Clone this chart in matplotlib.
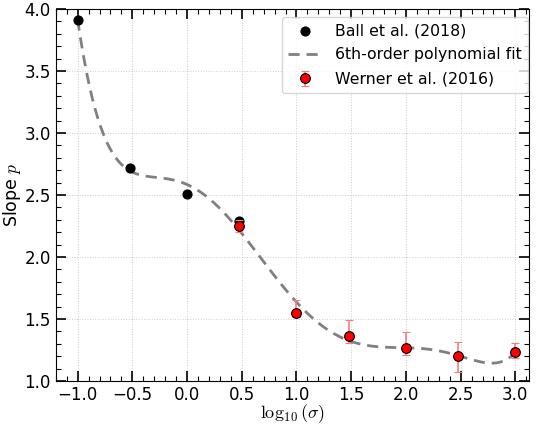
import numpy as np
import matplotlib
matplotlib.use("Agg")
import matplotlib.pyplot as plt
from matplotlib.ticker import MultipleLocator

plt.rcParams['mathtext.fontset'] = 'cm'

# Ball et al. (2018)
ball_x = [-1.0, -0.523, 0.0, 0.477]
ball_p = [3.91, 2.72, 2.51, 2.29]

# Werner et al. (2016)
wern_x = [0.477, 1.0, 1.477, 2.0, 2.477, 3.0]
wern_p = [2.25, 1.545, 1.365, 1.268, 1.20, 1.232]
wern_lo = [0.05, 0.03, 0.055, 0.06, 0.125, 0.047]
wern_hi = [0.05, 0.105, 0.125, 0.127, 0.115, 0.075]

# 6th order fit on both sets
all_x = np.array(ball_x + wern_x)
all_p = np.array(ball_p + wern_p)
coef = np.polyfit(all_x, all_p, 6)
xf = np.linspace(-1.0, 3.0, 300)
yf = np.polyval(coef, xf)

fig = plt.figure(figsize=(5.36, 4.25), dpi=100)
ax = fig.add_axes([0.104, 0.1035, 0.883, 0.8755])

ax.scatter(ball_x, ball_p, color='black', s=40, zorder=3, label='Ball et al. (2018)')
ax.plot(xf, yf, '--', color='gray', lw=2, dashes=(4, 2.5), zorder=2, label='6th-order polynomial fit')
ax.errorbar(wern_x, wern_p, yerr=[wern_lo, wern_hi], fmt='o', color='red', mec='black', mew=0.8,
            ms=7, ecolor='lightcoral', elinewidth=1.2, capsize=3, zorder=4, label='Werner et al. (2016)')

ax.set_xlim(-1.2, 3.125)
ax.set_ylim(1.0, 4.0)
ax.xaxis.set_major_locator(MultipleLocator(0.5))
ax.xaxis.set_minor_locator(MultipleLocator(0.1))
ax.yaxis.set_major_locator(MultipleLocator(0.5))
ax.yaxis.set_minor_locator(MultipleLocator(0.1))
ax.tick_params(which='both', direction='in', top=True, right=True, labelsize=12)
ax.tick_params(which='major', length=7, width=1.2)
ax.tick_params(which='minor', length=3.5, width=0.8)
ax.grid(True, ls=':', lw=0.7, color='#cccccc')
ax.set_axisbelow(True)

ax.set_xlabel(r'$\log_{10}(\sigma)$', fontsize=13, labelpad=-1)
ax.set_ylabel(r'Slope $p$', fontsize=12.5, labelpad=1)
ax.legend(loc='upper right', fontsize=11.3, handlelength=2.2, labelspacing=0.6,
          bbox_to_anchor=(0.998, 0.979), borderaxespad=0)

fig.savefig('out.png', dpi=100)
